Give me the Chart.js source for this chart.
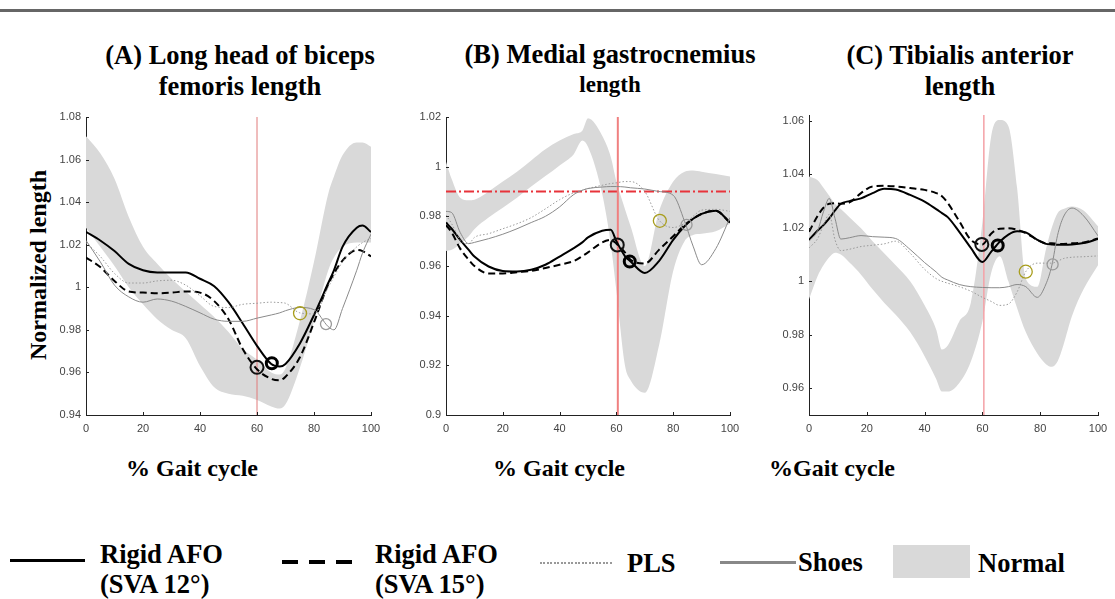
<!DOCTYPE html>
<html>
<head>
<meta charset="utf-8">
<script src="https://cdn.jsdelivr.net/npm/chart.js@4"></script>
<style>
  body { margin: 0; width: 1115px; height: 599px; background: #fff; position: relative; overflow: hidden;
         font-family: "Liberation Serif", "Times New Roman", serif; }
  .t { position: absolute; font-weight: bold; color: #000; white-space: nowrap; }
  .c { text-align: center; width: 420px; }
  canvas { position: absolute; }
  .bar { position: absolute; left: 0; top: 9px; width: 1115px; height: 3px; background: #666; }
  .sw { position: absolute; }
</style>
</head>
<body>
<div class="bar"></div>

<div class="t c" style="left:30px;top:40px;font-size:26.5px;line-height:31px;">(A) Long head of biceps<br>femoris length</div>
<div class="t c" style="left:400px;top:40px;font-size:26.5px;line-height:29px;">(B) Medial gastrocnemius<br><span style="font-size:23px">length</span></div>
<div class="t c" style="left:750px;top:40px;font-size:26.5px;line-height:31px;">(C) Tibialis anterior<br>length</div>

<div class="t" style="left:38px;top:265px;font-size:24px;transform:translate(-50%,-50%) rotate(-90deg);">Normalized length</div>
<div class="t" style="left:192px;top:468px;font-size:24px;transform:translate(-50%,-50%);">% Gait cycle</div>
<div class="t" style="left:559px;top:468px;font-size:24px;transform:translate(-50%,-50%);">% Gait cycle</div>
<div class="t" style="left:832px;top:468px;font-size:24px;transform:translate(-50%,-50%);">%Gait cycle</div>

<canvas id="chartA" width="345" height="340" style="left:40px;top:105px"></canvas>
<canvas id="chartB" width="345" height="340" style="left:400px;top:105px"></canvas>
<canvas id="chartC" width="350" height="340" style="left:763px;top:105px"></canvas>

<!-- legend -->
<div class="sw" style="left:10px;top:559px;width:75px;height:3px;background:#000"></div>
<div class="t" style="left:100px;top:539px;font-size:26.5px;line-height:30px">Rigid AFO<br>(SVA 12°)</div>
<div class="sw" style="left:282px;top:560px;width:70px;height:4px;background:repeating-linear-gradient(90deg,#000 0 16px,transparent 16px 27px)"></div>
<div class="t" style="left:375px;top:539px;font-size:26.5px;line-height:30px">Rigid AFO<br>(SVA 15°)</div>
<div class="sw" style="left:540px;top:562px;width:72px;height:2px;background:repeating-linear-gradient(90deg,#999 0 2px,transparent 2px 3.5px)"></div>
<div class="t" style="left:627px;top:548px;font-size:26.5px;line-height:30px">PLS</div>
<div class="sw" style="left:720px;top:561px;width:76px;height:3px;background:#888"></div>
<div class="t" style="left:798px;top:547px;font-size:26.5px;line-height:30px">Shoes</div>
<div class="sw" style="left:893px;top:545px;width:77px;height:33px;background:#d9d9d9"></div>
<div class="t" style="left:978px;top:548px;font-size:26.5px;line-height:30px">Normal</div>

<script>
// ---------- 共用刻度 ----------
const xTicks = [0, 20, 40, 60, 80, 100];
const yTicksA = [0.94, 0.96, 0.98, 1.00, 1.02, 1.04, 1.06, 1.08];
const yTicksB = [0.90, 0.92, 0.94, 0.96, 0.98, 1.00, 1.02];
const yTicksC = [0.96, 0.98, 1.00, 1.02, 1.04, 1.06];

// ---------- (A) biceps femoris ----------
const xsA      = [0, 5, 10, 15, 20, 25, 30, 35, 40, 45, 50, 55, 60, 65, 68, 70, 75, 80, 85, 87, 90, 95, 97, 100];
const afo12A   = [1.026, 1.022, 1.017, 1.011, 1.008, 1.007, 1.007, 1.007, 1.004, 1.0005, 0.993, 0.983, 0.9725, 0.964, 0.9628, 0.964, 0.9735, 0.987, 1.002, 1.008, 1.019, 1.028, 1.029, 1.026];
const afo15A   = [1.014, 1.0095, 1.003, 0.998, 0.9975, 0.9972, 0.9975, 0.998, 0.9975, 0.9935, 0.985, 0.971, 0.9615, 0.957, 0.9563, 0.958, 0.967, 0.9835, 1.0015, 1.0065, 1.0125, 1.0175, 1.017, 1.0145];
const plsA     = [1.021, 1.0145, 1.0065, 1.002, 1.002, 1.003, 1.0033, 1.001, 0.996, 0.991, 0.9905, 0.992, 0.9925, 0.993, 0.9928, 0.9925, 0.988, 0.9875, 1.000, 1.005, 1.012, 1.019, 1.021, 1.023];
const shoesA   = [1.022, 1.012, 1.001, 0.9955, 0.993, 0.9945, 0.9935, 0.991, 0.988, 0.985, 0.984, 0.984, 0.9855, 0.987, 0.988, 0.989, 0.9905, 0.9895, 0.9815, 0.980, 0.990, 1.008, 1.016, 1.025];
const normUpA  = [1.071, 1.063, 1.051, 1.033, 1.019, 1.011, 1.004, 0.998, 0.992, 0.986, 0.979, 0.971, 0.966, 0.960, 0.959, 0.962, 0.984, 1.012, 1.044, 1.052, 1.062, 1.068, 1.068, 1.066];
const normLoA  = [1.028, 1.019, 1.010, 1.000, 0.992, 0.985, 0.980, 0.976, 0.963, 0.953, 0.950, 0.949, 0.947, 0.944, 0.943, 0.945, 0.962, 0.984, 1.008, 1.014, 1.019, 1.021, 1.021, 1.021];
// toe-off 標記：AFO12, AFO15, PLS, Shoes
const toeXA = [65.2, 60.0, 75.1, 84.2];
const toeYA = [0.9643, 0.9624, 0.9878, 0.9827];

// ---------- (B) medial gastrocnemius ----------
const xsB      = [0, 2, 5, 8, 10, 15, 20, 25, 30, 35, 40, 45, 48, 50, 55, 58, 60, 63, 65, 70, 75, 80, 84, 87, 90, 95, 100];
const afo12B   = [0.9775, 0.975, 0.9705, 0.9665, 0.9638, 0.9598, 0.958, 0.9578, 0.9585, 0.9605, 0.9638, 0.9672, 0.9695, 0.9715, 0.9742, 0.9746, 0.970, 0.964, 0.9618, 0.9572, 0.962, 0.9705, 0.976, 0.979, 0.981, 0.9822, 0.9775];
const afo15B   = [0.9765, 0.9735, 0.967, 0.9625, 0.960, 0.957, 0.957, 0.9575, 0.958, 0.9592, 0.9605, 0.962, 0.964, 0.9655, 0.9695, 0.9705, 0.969, 0.9655, 0.9625, 0.961, 0.9665, 0.972, 0.9765, 0.979, 0.981, 0.9822, 0.9775];
const plsB     = [0.9805, 0.977, 0.9705, 0.969, 0.9715, 0.973, 0.975, 0.977, 0.9795, 0.983, 0.9867, 0.9895, 0.9905, 0.9912, 0.9925, 0.9932, 0.9935, 0.994, 0.994, 0.990, 0.9785, 0.9755, 0.9772, 0.980, 0.9825, 0.9828, 0.982];
const shoesB   = [0.982, 0.9815, 0.9735, 0.969, 0.9695, 0.971, 0.9728, 0.975, 0.9775, 0.980, 0.9838, 0.9888, 0.9905, 0.9912, 0.9918, 0.992, 0.992, 0.9918, 0.9915, 0.991, 0.990, 0.9885, 0.978, 0.968, 0.9605, 0.967, 0.9795];
const normUpB  = [1.002, 0.995, 0.9875, 0.9865, 0.9867, 0.990, 0.994, 0.998, 1.0025, 1.007, 1.0105, 1.0132, 1.0145, 1.0195, 1.0125, 1.004, 0.994, 0.983, 0.976, 0.960, 0.982, 0.994, 0.998, 0.9985, 0.998, 0.997, 0.996];
const normLoB  = [0.966, 0.9665, 0.969, 0.972, 0.9748, 0.9795, 0.9835, 0.9875, 0.992, 0.9962, 1.0005, 1.005, 1.0105, 1.008, 0.989, 0.969, 0.950, 0.920, 0.914, 0.909, 0.928, 0.958, 0.970, 0.9725, 0.973, 0.974, 0.977];
const toeXB = [64.7, 60.3, 75.3, 84.7];
const toeYB = [0.9618, 0.9685, 0.9782, 0.9766];
const refLineB = 0.99;

// ---------- (C) tibialis anterior ----------
const xsC      = [0, 3, 5, 7, 9, 11, 14, 18, 22, 26, 30, 35, 40, 44, 46, 48, 52, 56, 60, 63, 66, 69, 72, 75, 79, 82, 84, 86, 88, 91, 95, 100];
const afo12C   = [1.0155, 1.019, 1.021, 1.0235, 1.0265, 1.029, 1.030, 1.031, 1.033, 1.0346, 1.0343, 1.0323, 1.0298, 1.027, 1.0255, 1.024, 1.0185, 1.0125, 1.0072, 1.011, 1.0148, 1.0175, 1.0187, 1.0183, 1.0155, 1.014, 1.0138, 1.0137, 1.0137, 1.0138, 1.0143, 1.0158];
const afo15C   = [1.0185, 1.0245, 1.0275, 1.029, 1.0292, 1.029, 1.0295, 1.033, 1.0355, 1.0357, 1.0355, 1.0349, 1.0342, 1.033, 1.0318, 1.0293, 1.0225, 1.0155, 1.0138, 1.0178, 1.0197, 1.0198, 1.0193, 1.018, 1.0155, 1.0142, 1.0142, 1.014, 1.014, 1.0142, 1.0145, 1.016];
const plsC     = [1.0125, 1.016, 1.021, 1.025, 1.0155, 1.0115, 1.012, 1.013, 1.0135, 1.014, 1.015, 1.0105, 1.0045, 1.001, 1.000, 0.9993, 0.998, 0.9963, 0.994, 0.9925, 0.991, 0.9915, 0.996, 1.0036, 1.0068, 1.0068, 1.0068, 1.0075, 1.0085, 1.009, 1.0092, 1.0095];
const shoesC   = [1.015, 1.019, 1.026, 1.031, 1.0235, 1.0158, 1.0163, 1.0171, 1.0167, 1.0165, 1.016, 1.0119, 1.007, 1.0035, 1.0015, 1.0005, 0.9988, 0.998, 0.9977, 0.9976, 0.9976, 0.998, 0.9988, 0.998, 0.994, 0.999, 1.0058, 1.0172, 1.024, 1.0274, 1.0245, 1.017];
const normUpC  = [1.0392, 1.0378, 1.035, 1.032, 1.029, 1.027, 1.024, 1.0198, 1.015, 1.0105, 1.006, 1.000, 0.991, 0.982, 0.9745, 0.976, 0.985, 0.992, 1.022, 1.054, 1.0603, 1.058, 1.035, 1.001, 0.998, 1.012, 1.020, 1.0255, 1.027, 1.028, 1.0265, 1.0206];
const normLoC  = [0.9933, 1.002, 1.006, 1.009, 1.0107, 1.010, 1.007, 1.0025, 0.997, 0.992, 0.9875, 0.981, 0.972, 0.9635, 0.9588, 0.9588, 0.962, 0.970, 0.985, 1.003, 1.0094, 1.000, 0.990, 0.981, 0.973, 0.969, 0.968, 0.970, 0.976, 0.987, 0.997, 1.006];
const toeXC = [65.3, 59.8, 75.0, 84.3];
const toeYC = [1.0134, 1.0138, 1.0036, 1.0063];

// 紅色垂直參考線位置 (A, B, C)
const refX = [60, 60.5, 60.5];

const pts = (xs, ys) => xs.map((x, i) => ({ x, y: ys[i] }));

// MATLAB 風格：刻度朝內
const inTicks = {
  id: 'inTicks',
  afterDraw(c) {
    const { ctx, chartArea: a, scales: { x, y } } = c;
    ctx.save();
    ctx.strokeStyle = '#222';
    ctx.lineWidth = 1;
    ctx.beginPath();
    x.ticks.forEach(t => {
      const px = Math.round(x.getPixelForValue(t.value)) + 0.5;
      ctx.moveTo(px, a.bottom); ctx.lineTo(px, a.bottom - 3);
    });
    y.ticks.forEach(t => {
      const py = Math.round(y.getPixelForValue(t.value)) + 0.5;
      ctx.moveTo(a.left, py); ctx.lineTo(a.left + 3, py);
    });
    ctx.stroke();
    ctx.restore();
  },
};

function lineDs(data, color, width, dash) {
  return {
    data, borderColor: color, borderWidth: width, borderDash: dash || [],
    pointRadius: 0, fill: false, cubicInterpolationMode: 'monotone', order: 1,
  };
}

function toeDs(x, y, color, width, r) {
  return {
    data: [{ x, y }], showLine: false, pointRadius: r, pointBorderWidth: width,
    pointBorderColor: color, pointBackgroundColor: 'rgba(0,0,0,0)', order: 0, clip: false,
  };
}

function makeChart(id, o) {
  const datasets = [
    { data: pts(o.xs, o.up), borderWidth: 0, pointRadius: 0, backgroundColor: '#d9d9d9',
      fill: 1, cubicInterpolationMode: 'monotone', order: 10 },
    { data: pts(o.xs, o.lo), borderWidth: 0, pointRadius: 0, fill: false,
      cubicInterpolationMode: 'monotone', order: 10 },
    lineDs(pts(o.xs, o.shoes), '#8a8a8a', 1),
    lineDs(pts(o.xs, o.pls), '#9a9a9a', 1, [1.5, 2]),
    lineDs(pts(o.xs, o.afo15), '#000', 2, [7, 4]),
    lineDs(pts(o.xs, o.afo12), '#000', 2),
    // 紅色垂直線 (toe-off 參考)
    { data: [{ x: o.ref, y: o.min }, { x: o.ref, y: o.max }], borderColor: o.refColor,
      borderWidth: o.refWidth, pointRadius: 0, fill: false, order: 2 },
    toeDs(o.toeX[0], o.toeY[0], '#000', 3, 5.5),
    toeDs(o.toeX[1], o.toeY[1], '#111', 2, 6.5),
    toeDs(o.toeX[2], o.toeY[2], '#a89d1c', 1.3, 6.5),
    toeDs(o.toeX[3], o.toeY[3], '#9a9a9a', 1.3, 5.5),
  ];
  if (o.hLine != null) {
    datasets.push({ data: [{ x: 0, y: o.hLine }, { x: 100, y: o.hLine }], borderColor: '#e8333a',
      borderWidth: 2, borderDash: [10, 3, 2, 3], pointRadius: 0, fill: false, order: 2 });
  }
  return new Chart(document.getElementById(id), {
    type: 'line',
    data: { datasets },
    options: {
      responsive: false,
      animation: false,
      events: [],
      layout: { padding: { left: 0, top: o.padTop, right: o.padRight, bottom: 0 } },
      plugins: { legend: { display: false }, tooltip: { enabled: false } },
      scales: {
        x: {
          type: 'linear', min: 0, max: 100,
          grid: { display: false, drawTicks: false },
          border: { display: true, color: '#222', width: 1 },
          ticks: { font: { family: 'Liberation Sans', size: 11 }, color: '#444', padding: 7, maxRotation: 0 },
          afterBuildTicks: s => { s.ticks = xTicks.map(v => ({ value: v })); },
          afterFit: s => { s.height = 30; s.paddingLeft = 0; s.paddingRight = 0; },
        },
        y: {
          type: 'linear', min: o.min, max: o.max,
          grid: { display: false, drawTicks: false },
          border: { display: true, color: '#222', width: 1 },
          ticks: { font: { family: 'Liberation Sans', size: 11 }, color: '#444', padding: 5,
                   callback: v => String(+v.toFixed(2)) },
          afterBuildTicks: s => { s.ticks = o.yTicks.map(v => ({ value: v })); },
          afterFit: s => { s.width = 46; s.paddingTop = 0; s.paddingBottom = 0; },
        },
      },
    },
    plugins: [inTicks],
  });
}

makeChart('chartA', {
  xs: xsA, up: normUpA, lo: normLoA, afo12: afo12A, afo15: afo15A, pls: plsA, shoes: shoesA,
  toeX: toeXA, toeY: toeYA, ref: refX[0], refColor: '#e07a7a', refWidth: 1,
  min: 0.94, max: 1.08, yTicks: yTicksA, padTop: 12, padRight: 14,
});
makeChart('chartB', {
  xs: xsB, up: normUpB, lo: normLoB, afo12: afo12B, afo15: afo15B, pls: plsB, shoes: shoesB,
  toeX: toeXB, toeY: toeYB, ref: refX[1], refColor: '#f08080', refWidth: 2, hLine: refLineB,
  min: 0.90, max: 1.02, yTicks: yTicksB, padTop: 12, padRight: 15,
});
makeChart('chartC', {
  xs: xsC, up: normUpC, lo: normLoC, afo12: afo12C, afo15: afo15C, pls: plsC, shoes: shoesC,
  toeX: toeXC, toeY: toeYC, ref: refX[2], refColor: '#f4a0a6', refWidth: 1.5,
  min: 0.95, max: 1.0622, yTicks: yTicksC, padTop: 10, padRight: 15,
});
</script>
</body>
</html>
